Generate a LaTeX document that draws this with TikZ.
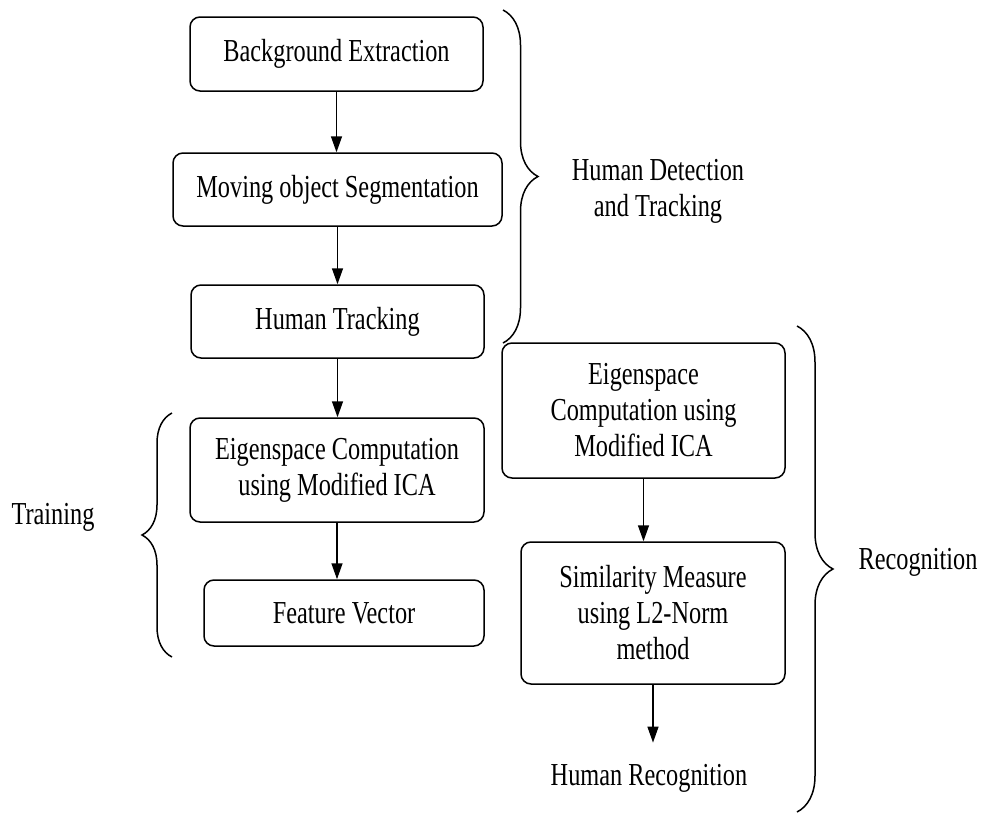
\documentclass[tikz,border=0pt]{standalone}
\usepackage{fontspec}
\setmainfont{Liberation Serif}[FakeStretch=0.76]
\usetikzlibrary{arrows.meta, decorations.pathreplacing}

\tikzset{
  stage/.style={draw, rounded corners=5pt, line width=0.75pt, inner sep=0pt, align=center},
  flow/.style={line width=0.75pt, -{Triangle[length=8pt,width=5.5pt]}},
  bracket/.style={decorate, line width=0.75pt, decoration={brace, amplitude=#1}},
  bracket/.default=18pt
}

\begin{document}
\begin{tikzpicture}[x=0.5pt, y=-0.5pt, font=\fontsize{16}{18}\selectfont]
\useasboundingbox (0,0) rectangle (982,814);
% detection and tracking
\node[stage, minimum width=146.5pt, minimum height=37pt] (bg) at (336.5,54) {Background Extraction};
\node[stage, minimum width=164.5pt, minimum height=36.5pt] (seg) at (337.5,189.5) {Moving object Segmentation};
\node[stage, minimum width=146.5pt, minimum height=36.5pt] (trk) at (337.5,321.5) {Human Tracking};
% training
\node[stage, minimum width=147pt, minimum height=52pt] (eigL) at (337,470) {Eigenspace Computation\\using Modified ICA};
\node[stage, minimum width=140pt, minimum height=33pt] (feat) at (344,613) {Feature Vector};
% recognition
\node[stage, minimum width=141.5pt, minimum height=67.5pt] (eigR) at (643.5,410.5) {Eigenspace\\Computation using\\Modified ICA};
\node[stage, minimum width=132pt, minimum height=71pt] (sim) at (653,613) {Similarity Measure\\using L2-Norm\\method};
\node[minimum height=35pt, inner sep=0pt] (rec) at (649,778) {Human Recognition};
\foreach \a/\b in {bg/seg, seg/trk, trk/eigL, eigL/feat, eigR/sim, sim/rec}
	\draw[flow] (\a.south) -- (\a.south |- \b.north);
% braces
\draw[bracket=17.5pt] (503,10) -- (503,343);
\draw[bracket=15pt] (172,657) -- (172,413);
\draw[bracket] (797,326) -- (797,812);
\node[align=center] (hdt) at (658,191) {Human Detection\\and Tracking};
\node (train) at (53,517) {Training};
\node (recog) at (918,562) {Recognition};
\end{tikzpicture}
\end{document}
